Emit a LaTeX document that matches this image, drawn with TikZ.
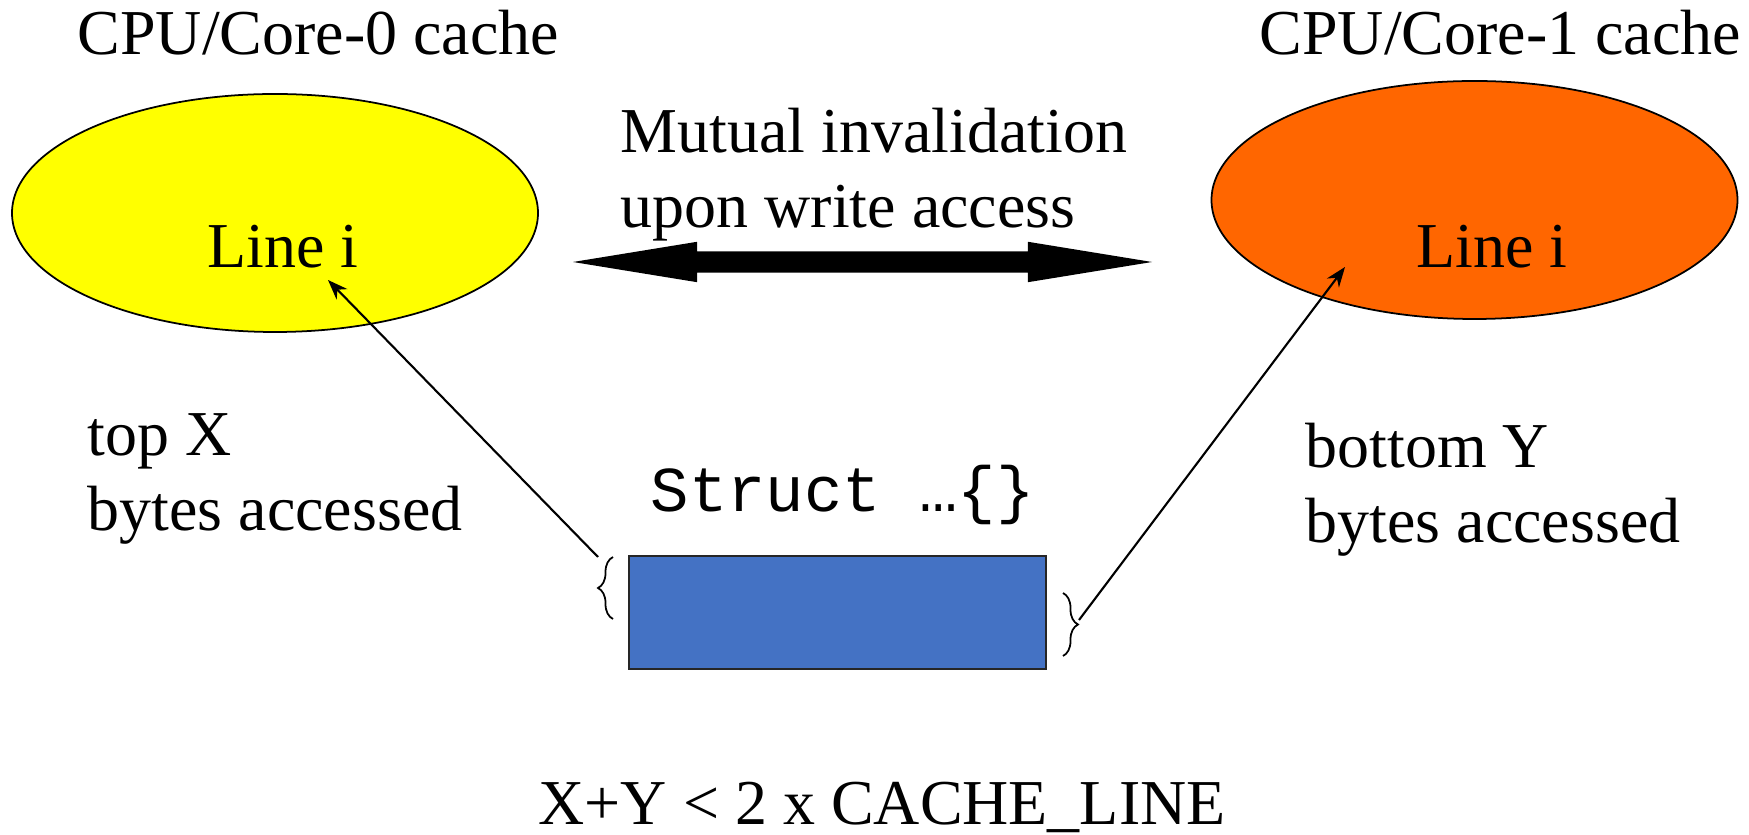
\documentclass[tikz,border=0pt]{standalone}
\usepackage{fontspec}
\setmainfont{Liberation Serif}
\setmonofont{Liberation Mono}
\usepackage{tikz}
\usetikzlibrary{positioning,arrows.meta,shapes.geometric,shapes.arrows,decorations.pathreplacing}
\definecolor{cacheyellow}{RGB}{255,255,0}
\definecolor{cacheorange}{RGB}{255,102,0}
\definecolor{structblue}{RGB}{68,114,196}

\begin{document}
\begin{tikzpicture}[
  font=\fontsize{18.2}{21.6}\selectfont,
  >=Stealth,
  cachenode/.style={ellipse, draw=black, line width=0.5pt, minimum width=5.26cm, minimum height=2.38cm, inner sep=0pt},
  txtnode/.style={inner sep=0pt, anchor=base west, align=left},
  accessmap/.style={->, draw=black, line width=0.6pt},
  bytebrace/.style={decorate, decoration={brace, amplitude=0.15cm}, draw=black, line width=0.5pt}
]
  \useasboundingbox (0,0) rectangle (17.49,-8.35);
  % caches
  \node[txtnode] (title0) at (0.77,-0.55) {CPU/Core-0 cache};
  \node[txtnode] (title1) at (12.59,-0.55) {CPU/Core-1 cache};
  \node[cachenode, fill=cacheyellow] (cache0) at (2.75,-2.13) {};
  \node[cachenode, fill=cacheorange] (cache1) at (14.745,-2.00) {};
  \node[inner sep=0pt, anchor=base] (line0) at (2.83,-2.68) {Line i};
  \node[inner sep=0pt, anchor=base] (line1) at (14.92,-2.68) {Line i};
  % invalidation (base = last line)
  \node[txtnode] (invtext) at (6.20,-2.28) {Mutual invalidation\\upon write access};
  \node[double arrow, fill=black, inner xsep=0pt, inner ysep=0.1cm, minimum height=5.79cm,
        double arrow head extend=0.095cm, double arrow tip angle=18.5] (invarrow) at (8.625,-2.62) {};
  % struct
  \node[txtnode] (topx) at (0.87,-5.31) {top X\\bytes accessed};
  \node[txtnode] (boty) at (13.05,-5.43) {bottom Y\\bytes accessed};
  \node[txtnode, font=\fontsize{18.2}{21.6}\ttfamily] (structlbl) at (6.50,-5.12) {Struct …\{\}};
  \node[draw=black!85, line width=0.5pt, fill=structblue, minimum width=4.17cm, minimum height=1.13cm, inner sep=0pt] (structbox) at (8.375,-6.125) {};
  \draw[bytebrace] (6.13,-6.19) -- (6.13,-5.57);
  \draw[bytebrace] (10.63,-5.93) -- (10.63,-6.56);
  \coordinate (topend) at (5.98,-5.57);
  \coordinate (botend) at (10.79,-6.20);
  \coordinate (tip0) at (3.28,-2.80);
  \coordinate (tip1) at (13.45,-2.67);
  \draw[accessmap] (topend) -- (tip0);
  \draw[accessmap] (botend) -- (tip1);
  \node[txtnode] (cond) at (5.38,-8.25) {X+Y < 2 x CACHE\_LINE};
\end{tikzpicture}
\end{document}
